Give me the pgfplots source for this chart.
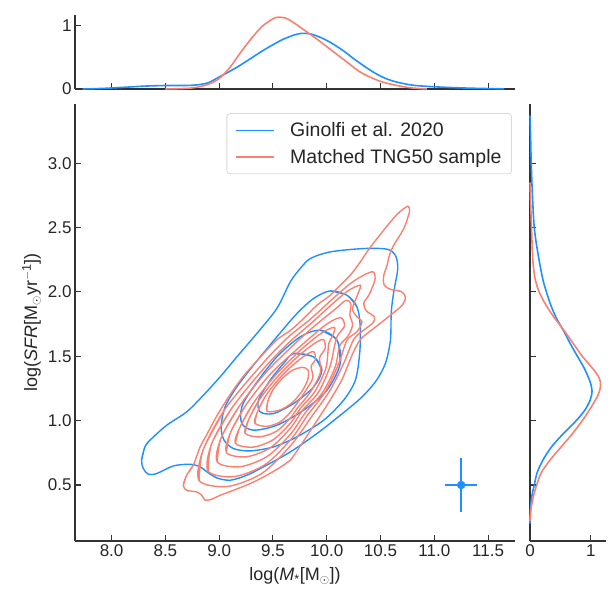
\documentclass[border=0pt]{standalone}
\usepackage{pgfplots}
\pgfplotsset{compat=1.18}
\usepackage{fontspec}
\setmainfont{Liberation Sans}

\definecolor{ginolfi}{HTML}{1E90FF}
\definecolor{tng}{HTML}{FA8072}
\definecolor{spine}{HTML}{333333}

\tikzset{tickmark/.style={spine, line width=1.1pt}}

\pgfplotsset{
  jointbase/.style={
    scale only axis,
    anchor=south west,
    axis lines=left,
    axis line style={-, line width=1.2pt, spine},
    xtick align=inside, ytick align=inside,
    major tick length=6pt,
    every tick/.style={line width=1.1pt, spine},
    tick label style={font=\fontsize{17}{20}\selectfont, text=black!85},
    label style={font=\fontsize{18}{21}\selectfont, text=black!85},
  },
  cont/.style={line width=1.4pt, smooth, forget plot},
  kde/.style={line width=1.6pt, smooth, forget plot},
}

\begin{document}
\begin{tikzpicture}
\path[use as bounding box] (0,0) rectangle (608pt,591pt);

% ---------------- joint panel: log M* vs log SFR ----------------
\begin{axis}[jointbase,
  at={(75pt,50pt)}, width=440pt, height=437pt,
  xmin=7.66, xmax=11.75, ymin=0.065, ymax=3.46,
  xtick={8,8.5,...,11.5},
  xticklabels={8.0,8.5,9.0,9.5,10.0,10.5,11.0,11.5},
  ytick={0.5,1,...,3},
  yticklabels={0.5,1.0,1.5,2.0,2.5,3.0},
  xlabel={log(\textit{M}\textsubscript{*}[M\textsubscript{$\odot$}])},
  xlabel style={yshift=-4pt},
  ylabel={log(\textit{SFR}[M\textsubscript{$\odot$}yr\textsuperscript{$-$1}])},
  legend style={at={(rel axis cs:0.993,0.979)}, anchor=north east,
    draw=black!15, line width=0.8pt, rounded corners=3pt, fill=white,
    font=\fontsize{19.5}{22}\selectfont, text=black!85,
    inner xsep=8pt, inner ysep=7pt, row sep=7pt,
    /tikz/every odd column/.append style={column sep=14pt}},
  legend cell align=left,
  legend image code/.code={\draw[#1] (0pt,0pt) -- (38pt,0pt);},
]
\addlegendimage{ginolfi, line width=1.3pt}
\addlegendentry{Ginolfi et al. 2020}
\addlegendimage{tng, line width=1.3pt}
\addlegendentry{Matched TNG50 sample}

% inward tick marks on both spines
\pgfplotsinvokeforeach{8,8.5,9,9.5,10,10.5,11,11.5}{
  \draw[tickmark] (axis cs:#1,0.065) -- ++(0pt,6pt);}
\pgfplotsinvokeforeach{0.5,1,1.5,2,2.5,3}{
  \draw[tickmark] (axis cs:7.66,#1) -- ++(6pt,0pt);}

% Ginolfi et al. 2020 density contours
\addplot[ginolfi, cont] coordinates {
(8.279,0.692) (8.310,0.796) (8.357,0.848) (8.512,0.964) (8.698,1.068) (8.854,1.198)
(9.009,1.340) (9.164,1.495) (9.350,1.677) (9.536,1.871) (9.661,2.078) (9.754,2.182)
(9.847,2.259) (10.033,2.311) (10.343,2.337) (10.561,2.332) (10.638,2.285) (10.660,2.182)
(10.623,2.000) (10.600,1.845) (10.592,1.625) (10.545,1.444) (10.452,1.301) (10.312,1.172)
(10.126,1.042) (9.909,0.900) (9.661,0.757) (9.412,0.641) (9.257,0.576) (9.102,0.537)
(8.978,0.555) (8.900,0.594) (8.823,0.641) (8.729,0.661) (8.574,0.648) (8.419,0.589)
(8.341,0.584) (8.295,0.628) (8.279,0.692) (8.310,0.796) (8.357,0.848)};
\addplot[ginolfi, cont] coordinates {
(10.033,2.008) (10.188,1.974) (10.281,1.884) (10.312,1.728) (10.306,1.521) (10.266,1.314)
(10.157,1.159) (9.971,1.003) (9.723,0.874) (9.505,0.796) (9.288,0.765) (9.133,0.783)
(9.046,0.848) (9.018,0.951) (9.055,1.107) (9.164,1.262) (9.319,1.431) (9.536,1.651)
(9.723,1.832) (9.878,1.949) (10.033,2.008) (10.188,1.974) (10.281,1.884)};
\addplot[ginolfi, cont] coordinates {
(9.940,1.703) (10.095,1.625) (10.126,1.444) (10.002,1.236) (9.785,1.081) (9.536,0.964)
(9.319,0.926) (9.211,0.977) (9.211,1.107) (9.319,1.262) (9.536,1.495) (9.754,1.651)
(9.940,1.703) (10.095,1.625) (10.126,1.444)};
\addplot[ginolfi, cont] coordinates {
(9.692,1.521) (9.878,1.495) (9.955,1.392) (9.878,1.262) (9.692,1.133) (9.505,1.055)
(9.381,1.068) (9.366,1.159) (9.474,1.314) (9.599,1.444) (9.692,1.521) (9.878,1.495)
(9.955,1.392)};

% Matched TNG50 sample density contours
\addplot[tng, cont] coordinates {
(8.667,0.498) (8.698,0.576) (8.760,0.654) (8.82,0.79) (8.89,0.90) (8.96,1.01)
(9.01,1.08) (9.10,1.20) (9.23,1.35) (9.39,1.50) (9.54,1.63) (9.661,1.700)
(9.785,1.793) (9.909,1.897) (10.033,1.974) (10.126,2.052) (10.219,2.130) (10.312,2.233)
(10.374,2.311) (10.468,2.415) (10.592,2.544) (10.669,2.615) (10.753,2.666) (10.770,2.635)
(10.762,2.600) (10.716,2.492) (10.623,2.363) (10.585,2.290) (10.561,2.208) (10.528,2.120)
(10.535,2.052) (10.592,2.020) (10.690,2.003) (10.731,1.962) (10.705,1.900) (10.592,1.819)
(10.436,1.716) (10.312,1.630) (10.235,1.508) (10.142,1.320) (10.017,1.140) (9.878,0.960)
(9.76,0.81) (9.661,0.692) (9.599,0.654) (9.443,0.576) (9.288,0.511) (9.133,0.459)
(9.009,0.420) (8.931,0.390) (8.869,0.382) (8.838,0.420) (8.792,0.446) (8.698,0.459)
(8.667,0.498) (8.698,0.576) (8.760,0.654)};
\addplot[tng, cont] coordinates {
(8.814,0.534) (8.85,0.77) (9.055,1.09) (9.39,1.43) (9.63,1.64) (9.85,1.79)
(10.06,1.950) (10.22,2.065) (10.343,2.130) (10.430,2.156) (10.450,2.100) (10.395,1.980)
(10.345,1.915) (10.368,1.853) (10.443,1.806) (10.430,1.760) (10.343,1.703) (10.250,1.630)
(10.16,1.45) (10.03,1.235) (9.85,1.02) (9.670,0.812) (9.399,0.591) (9.080,0.489)
(8.814,0.534) (8.85,0.77) (9.055,1.09)};
\addplot[tng, cont] coordinates {
(8.898,0.607) (8.93,0.82) (9.12,1.10) (9.42,1.41) (9.64,1.60) (9.86,1.760)
(10.05,1.905) (10.20,2.010) (10.312,2.052) (10.290,1.985) (10.240,1.870) (10.281,1.806)
(10.328,1.767) (10.281,1.690) (10.188,1.625) (10.11,1.44) (9.99,1.23) (9.82,1.04)
(9.668,0.855) (9.424,0.657) (9.138,0.565) (8.898,0.607) (8.93,0.82) (9.12,1.10)};
\addplot[tng, cont] coordinates {
(8.982,0.679) (9.018,0.866) (9.186,1.111) (9.45,1.388) (9.81,1.68) (10.07,1.86)
(10.18,1.935) (10.225,1.905) (10.215,1.82) (10.24,1.745) (10.20,1.66) (10.12,1.58)
(10.08,1.42) (9.964,1.222) (9.80,1.06) (9.666,0.898) (9.449,0.723) (9.196,0.642)
(8.982,0.679) (9.018,0.866) (9.186,1.111)};
\addplot[tng, cont] coordinates {
(9.067,0.752) (9.106,0.908) (9.25,1.123) (9.48,1.365) (9.773,1.591) (10.00,1.75)
(10.13,1.80) (10.165,1.735) (10.10,1.66) (10.07,1.57) (10.03,1.42) (9.924,1.221)
(9.78,1.085) (9.663,0.942) (9.475,0.789) (9.253,0.719) (9.067,0.752) (9.106,0.908)
(9.25,1.123)};
\addplot[tng, cont] coordinates {
(9.151,0.824) (9.194,0.950) (9.316,1.134) (9.511,1.341) (9.746,1.540) (9.949,1.679)
(10.07,1.725) (10.06,1.67) (10.02,1.60) (10.01,1.52) (9.99,1.40) (9.885,1.220)
(9.76,1.10) (9.664,0.982) (9.503,0.852) (9.313,0.794) (9.151,0.824) (9.194,0.950)
(9.316,1.134)};
\addplot[tng, cont] coordinates {
(9.241,0.902) (9.274,1.007) (9.370,1.158) (9.528,1.328) (9.716,1.487) (9.881,1.597)
(9.97,1.63) (9.985,1.56) (9.935,1.49) (9.94,1.37) (9.844,1.217) (9.73,1.10)
(9.667,1.025) (9.536,0.919) (9.378,0.874) (9.241,0.902) (9.274,1.007) (9.370,1.158)};
\addplot[tng, cont] coordinates {
(9.332,0.980) (9.354,1.064) (9.425,1.183) (9.545,1.314) (9.687,1.433) (9.812,1.514)
(9.88,1.535) (9.895,1.475) (9.855,1.42) (9.87,1.33) (9.79,1.215) (9.666,1.070)
(9.565,0.989) (9.441,0.956) (9.332,0.980) (9.354,1.064) (9.425,1.183)};
\addplot[tng, cont] coordinates {
(9.443,1.075) (9.453,1.152) (9.502,1.242) (9.584,1.326) (9.680,1.390) (9.771,1.414)
(9.825,1.394) (9.827,1.328) (9.778,1.239) (9.690,1.148) (9.587,1.090) (9.502,1.071)
(9.443,1.075) (9.453,1.152) (9.502,1.242)};

% typical measurement uncertainty
\addplot[ginolfi, only marks, mark=*, mark size=4pt, forget plot,
  error bars/.cd, x dir=both, x explicit, y dir=both, y explicit,
  error mark=none, error bar style={line width=1.8pt, ginolfi}]
  coordinates {(11.25,0.5) +- (0.15,0.21)};
\end{axis}

% ---------------- marginal: stellar mass ----------------
\begin{axis}[jointbase,
  at={(75pt,502pt)}, width=440pt, height=74pt,
  xmin=7.66, xmax=11.75, ymin=0, ymax=1.17,
  xtick={8,8.5,...,11.5}, xticklabels={},
  ytick={0,1}, yticklabels={0,1},
  clip=false,
]
\pgfplotsinvokeforeach{8,8.5,9,9.5,10,10.5,11,11.5}{
  \draw[tickmark] (axis cs:#1,0) -- ++(0pt,6pt);}
\draw[tickmark] (axis cs:7.66,1) -- ++(6pt,0pt);
\addplot[ginolfi, kde] coordinates {
(7.73,0.0) (7.9,0.008) (8.1,0.025) (8.3,0.045) (8.5,0.055) (8.7,0.056) (8.8,0.066)
(8.9,0.10) (9.0,0.19) (9.1,0.28) (9.2,0.38) (9.3,0.49) (9.4,0.60) (9.5,0.70)
(9.6,0.79) (9.7,0.855) (9.77,0.88) (9.85,0.87) (9.95,0.81) (10.05,0.72) (10.15,0.61)
(10.25,0.48) (10.35,0.36) (10.45,0.25) (10.55,0.165) (10.65,0.11) (10.8,0.06)
(11.0,0.035) (11.2,0.02) (11.4,0.01) (11.65,0.002)};
\addplot[tng, kde] coordinates {
(8.5,0.0) (8.7,0.01) (8.8,0.03) (8.9,0.075) (9.0,0.165) (9.1,0.34) (9.2,0.58)
(9.3,0.80) (9.4,0.99) (9.5,1.11) (9.55,1.135) (9.62,1.12) (9.7,1.04) (9.8,0.92)
(9.9,0.80) (10.0,0.67) (10.1,0.54) (10.2,0.41) (10.3,0.28) (10.4,0.19) (10.5,0.12)
(10.6,0.075) (10.7,0.04) (10.8,0.015) (10.93,0.0)};
\end{axis}

% ---------------- marginal: star formation rate ----------------
\begin{axis}[jointbase,
  at={(530pt,50pt)}, width=76pt, height=437pt,
  xmin=0, xmax=1.25, ymin=0.065, ymax=3.46,
  xtick={0,1}, xticklabels={0,1},
  ytick={0.5,1,...,3}, yticklabels={},
  clip=false,
]
\pgfplotsinvokeforeach{0.5,1,1.5,2,2.5,3}{
  \draw[tickmark] (axis cs:0,#1) -- ++(6pt,0pt);}
\draw[tickmark] (axis cs:1,0.065) -- ++(0pt,6pt);
\addplot[ginolfi, kde] coordinates {
(0,0.2) (0.008,0.3) (0.025,0.4) (0.07,0.5) (0.12,0.6) (0.22,0.7) (0.36,0.8)
(0.55,0.9) (0.76,1.0) (0.90,1.08) (0.99,1.16) (1.02,1.23) (0.99,1.3) (0.90,1.4)
(0.78,1.5) (0.66,1.6) (0.55,1.7) (0.43,1.8) (0.34,1.9) (0.27,2.0) (0.21,2.1)
(0.13,2.3) (0.07,2.5) (0.04,2.75) (0.02,3.0) (0.01,3.2) (0.0,3.37)};
\addplot[tng, kde] coordinates {
(0,0.22) (0.012,0.3) (0.05,0.4) (0.11,0.5) (0.19,0.6) (0.34,0.7) (0.52,0.8)
(0.70,0.9) (0.86,1.0) (1.00,1.1) (1.12,1.2) (1.16,1.27) (1.14,1.33) (1.04,1.4)
(0.86,1.5) (0.71,1.6) (0.56,1.7) (0.40,1.8) (0.26,1.9) (0.15,2.0) (0.085,2.1)
(0.055,2.2) (0.04,2.3) (0.025,2.5) (0.01,2.7) (0.0,2.85)};
\end{axis}
\end{tikzpicture}
\end{document}
